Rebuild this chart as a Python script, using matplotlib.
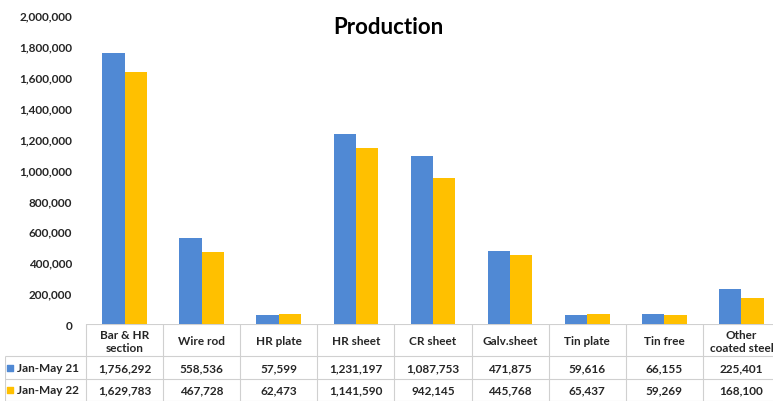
import numpy as np
import matplotlib.pyplot as plt
from matplotlib.ticker import FuncFormatter

plt.rcParams['font.family'] = ['Lato', 'DejaVu Sans']

categories = ["Bar & HR\nsection", "Wire rod", "HR plate", "HR sheet", "CR sheet",
              "Galv.sheet", "Tin plate", "Tin free", "Other\ncoated steel"]
series_names = ["Jan-May 21", "Jan-May 22"]
jan_may_21 = [1756292, 558536, 57599, 1231197, 1087753, 471875, 59616, 66155, 225401]
jan_may_22 = [1629783, 467728, 62473, 1141590, 942145, 445768, 65437, 59269, 168100]
colors = ["#5089D4", "#FFC000"]

W, H = 773, 402
fig = plt.figure(figsize=(W / 100, H / 100), dpi=100)

# main bar area (runs slightly past the right edge, like the source)
left_px, right_px, base_px, top_px = 86, 780, 325, 16
ax = fig.add_axes([left_px / W, 1 - base_px / H, (right_px - left_px) / W, (base_px - top_px) / H])
x = np.arange(len(categories))
bw = 0.29
ax.bar(x - bw / 2, jan_may_21, bw, color=colors[0], zorder=2)
ax.bar(x + bw / 2, jan_may_22, bw, color=colors[1], zorder=2)
ax.set_xlim(-0.5, len(categories) - 0.5)
ax.set_ylim(0, 2000000)
ax.set_yticks(np.arange(0, 2000001, 200000))
ax.yaxis.set_major_formatter(FuncFormatter(lambda v, p: f"{int(v):,}"))
ax.tick_params(axis='y', length=0, labelsize=8.5, pad=10, labelcolor="#262626")
for lab in ax.get_yticklabels():
    lab.set_fontweight('bold')
ax.set_xticks([])
for s in ax.spines.values():
    s.set_visible(False)
fig.text(388 / W, 1 - 27 / H, "Production", ha='center', va='center',
         fontsize=16, fontweight='bold', color='black')

# data table below
tab_left = 5
legend_w = (left_px - tab_left) / ((right_px - left_px) / len(categories))
tax = fig.add_axes([tab_left / W, 0, (right_px - tab_left) / W, (H - base_px) / H])
tax.set_xlim(-0.5 - legend_w, len(categories) - 0.5)
tax.set_ylim(H - base_px, 0)
tax.axis('off')
line_c = "#d0d0d0"
rows = [0, 32, 55, 76.5]
n = len(categories)
tax.hlines(rows[0], -0.5, n - 0.5, color=line_c, lw=0.8)
for r in rows[1:]:
    tax.hlines(r, -0.5 - legend_w, n - 0.5, color=line_c, lw=0.8)
for i in range(n + 1):
    tax.vlines(i - 0.5, rows[0] - 3, rows[3], color=line_c, lw=0.8)
tax.vlines(-0.5 - legend_w, rows[1], rows[3], color=line_c, lw=0.8)

fs = 8.5
for i, c in enumerate(categories):
    tax.text(i, (rows[0] + rows[1]) / 2 + 1, c, ha='center', va='center', fontsize=fs,
             fontweight='bold', color='#262626', linespacing=1.15)
for r, (name, vals, col) in enumerate(zip(series_names, [jan_may_21, jan_may_22], colors)):
    yc = (rows[r + 1] + rows[r + 2]) / 2
    tax.scatter([-0.5 - legend_w + 0.07], [yc], marker='s', s=22, color=col)
    tax.text(-0.5 - legend_w + 0.15, yc, name, ha='left', va='center', fontsize=fs,
             fontweight='bold', color='#262626')
    for i, v in enumerate(vals):
        tax.text(i, yc, f"{v:,}", ha='center', va='center', fontsize=fs,
                 fontweight='bold', color='#262626')

fig.savefig("out.png", dpi=100)
